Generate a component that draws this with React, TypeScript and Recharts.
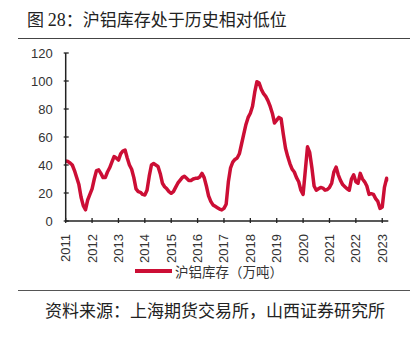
import React from "react";
import { LineChart, Line, XAxis, YAxis } from "recharts";

const titlePrefix = "图 ";
const titleNumber = "28";
const titleRest = "：沪铝库存处于历史相对低位";
const sourceText = "资料来源：上海期货交易所，山西证券研究所";
const seriesName = "沪铝库存（万吨）";

const months: string[] = [];
for (let y = 2011; y <= 2023; y++) {
  for (let m = 1; m <= 12; m++) {
    if (y === 2023 && m > 4) break;
    months.push(`${y}-${String(m).padStart(2, "0")}`);
  }
}

const stock2011 = [43, 42.5, 41.5, 40, 36, 31, 26, 17, 11, 8, 15, 19];
const stock2012 = [23, 30, 36, 36.5, 34, 31, 31, 35, 38, 42, 46, 45];
const stock2013 = [43.5, 48, 50, 50.7, 45, 40, 37, 31, 23, 21, 20.5, 19];
const stock2014 = [18.6, 22, 32, 40, 41, 40, 39, 34, 27, 24.5, 23, 21];
const stock2015 = [19.8, 21, 24, 27, 29, 31, 32, 30.5, 29, 29, 30, 30.5];
const stock2016 = [30.5, 31.5, 34, 31, 25, 18, 14, 11.5, 10.5, 9.5, 8.5, 7.9];
const stock2017 = [9, 12, 28, 38, 42, 44, 45, 48, 55, 62, 69, 74];
const stock2018 = [77, 82, 92, 99.5, 98.5, 94, 91, 89, 86, 82, 77, 70];
const stock2019 = [72, 74, 73, 62, 52, 46, 41, 37, 35, 31, 28, 22];
const stock2020 = [19, 36, 53, 49, 38, 25, 22, 23, 24, 23.5, 22, 22.5];
const stock2021 = [24, 27, 35, 38.5, 33, 29, 26, 24.5, 23, 22, 30, 33];
const stock2022 = [28, 27, 34, 30, 28, 25, 19, 19.5, 19, 16, 14, 9];
const stock2023 = [10, 24, 30.5, 29];

const stockValues = [
  ...stock2011, ...stock2012, ...stock2013, ...stock2014, ...stock2015,
  ...stock2016, ...stock2017, ...stock2018, ...stock2019, ...stock2020,
  ...stock2021, ...stock2022, ...stock2023,
];

const yearTicks = [2011, 2012, 2013, 2014, 2015, 2016, 2017, 2018, 2019, 2020, 2021, 2022, 2023];
const yTicks = [0, 20, 40, 60, 80, 100, 120];

const data = months.map((m, i) => {
  const [y, mo] = m.split("-").map(Number);
  return { t: y + (mo - 1) / 12, v: stockValues[i] };
});

const RED = "#CC0E35";
const AXIS = "#222";
const TEXT = "#333";
const CJK = '"Noto Sans CJK SC", "Noto Sans", sans-serif';
const NUM = '"Liberation Sans", Arial, sans-serif';

const YTick = (props: any) => {
  const { x, y, payload } = props;
  const axisX = x + 11;
  return (
    <g>
      <line x1={axisX} x2={axisX + 5} y1={y} y2={y} stroke={AXIS} strokeWidth={1.3} />
      <text x={x} y={y} dy={4.5} textAnchor="end" fill={TEXT} fontSize={13} fontFamily={NUM}>
        {payload.value}
      </text>
    </g>
  );
};

const XTick = (props: any) => {
  const { x, y, payload } = props;
  const axisY = y - 10;
  return (
    <g>
      <line x1={x} x2={x} y1={axisY} y2={axisY - 5} stroke={AXIS} strokeWidth={1.3} />
      <text
        x={x}
        y={y + 1}
        transform={`rotate(-90, ${x}, ${y + 1})`}
        dy={4.5}
        textAnchor="end"
        fill={TEXT}
        fontSize={13}
        fontFamily={NUM}
      >
        {payload.value}
      </text>
    </g>
  );
};

export default function App() {
  return (
    <div
      style={{
        position: "absolute",
        left: 0,
        top: 0,
        width: 417,
        height: 337,
        background: "#fff",
        overflow: "hidden",
      }}
    >
      <div
        style={{
          position: "absolute",
          left: 27,
          top: 8,
          fontSize: 17,
          lineHeight: "22px",
          fontFamily: CJK,
          color: "#222",
          whiteSpace: "nowrap",
        }}
      >
        {titlePrefix}
        <span style={{ fontFamily: '"Liberation Serif", serif', fontSize: 18 }}>{titleNumber}</span>
        {titleRest}
      </div>
      <div style={{ position: "absolute", left: 18, top: 38, width: 392, height: 1, background: "#444" }} />

      <div style={{ position: "absolute", left: 0, top: 0 }}>
        <LineChart
          width={417}
          height={290}
          data={data}
          margin={{ top: 53, right: 28.7, left: 0, bottom: 29 }}
        >
          <XAxis
            dataKey="t"
            type="number"
            domain={[2011, 2023.23]}
            ticks={yearTicks}
            interval={0}
            height={40}
            stroke={AXIS}
            strokeWidth={1.5}
            tickLine={false}
            tickSize={10}
            tick={<XTick />}
            allowDataOverflow
          />
          <YAxis
            type="number"
            domain={[0, 120]}
            ticks={yTicks}
            interval={0}
            width={65.7}
            stroke={AXIS}
            strokeWidth={1.5}
            tickLine={false}
            tickSize={11}
            tick={<YTick />}
          />
          <Line
            type="linear"
            dataKey="v"
            stroke={RED}
            strokeWidth={3.5}
            strokeLinejoin="round"
            dot={false}
            isAnimationActive={false}
          />
        </LineChart>
      </div>

      <div style={{ position: "absolute", left: 135, top: 269, width: 37, height: 4, background: RED }} />
      <div
        style={{
          position: "absolute",
          left: 175,
          top: 262,
          fontSize: 13.5,
          lineHeight: "18px",
          fontFamily: CJK,
          color: TEXT,
          whiteSpace: "nowrap",
        }}
      >
        {seriesName}
      </div>

      <div style={{ position: "absolute", left: 18, top: 290, width: 392, height: 1, background: "#555" }} />
      <div
        style={{
          position: "absolute",
          left: 45,
          top: 299,
          fontSize: 17,
          lineHeight: "22px",
          fontFamily: CJK,
          color: "#222",
          whiteSpace: "nowrap",
        }}
      >
        {sourceText}
      </div>
    </div>
  );
}
